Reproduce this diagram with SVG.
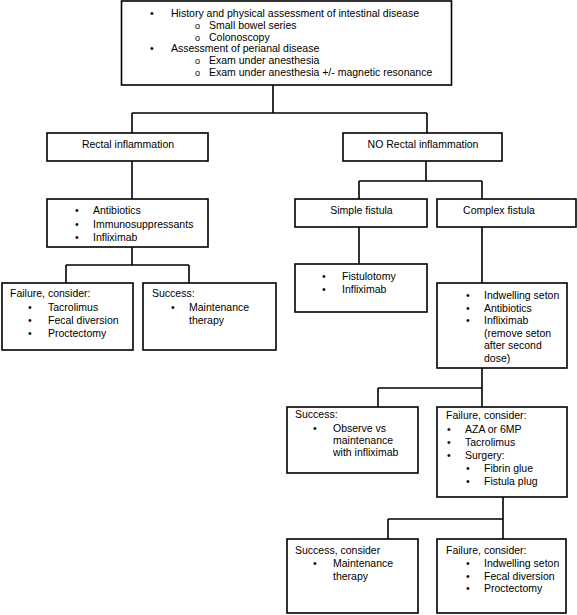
<svg xmlns="http://www.w3.org/2000/svg" width="577" height="615" viewBox="0 0 577 615">
<style>
.box{fill:#fff;stroke:#000;stroke-width:1.6}
.ln{fill:none;stroke:#000;stroke-width:1.6}
text{font-family:"Liberation Sans",Arial,sans-serif;font-size:10.5px;fill:#000}
.c{text-anchor:middle}
.o{font-size:9px}
</style>
<rect width="577" height="615" fill="#fff"/>
<g id="connectors">
<path class="ln" d="M273,85 V113 M132,113 H427 M132,113 V133 M427,113 V133"/>
<path class="ln" d="M132,161 V199 M132,247 V265 M66,265 H189 M66,265 V283 M189,265 V283"/>
<path class="ln" d="M426,161 V181 M359,181 H482 M359,181 V199 M482,181 V199"/>
<path class="ln" d="M359,227 V264 M482,227 V283"/>
<path class="ln" d="M482,368 V388 M378,388 H482 M378,388 V407 M482,388 V407"/>
<path class="ln" d="M503,497 V519 M388,519 H503 M388,519 V539 M503,519 V539"/>
</g>
<g id="top">
<rect class="box" x="121.5" y="1" width="330" height="84"/>
<text x="150" y="17">•</text><text x="171" y="17">History and physical assessment of intestinal disease</text>
<text class="o" x="195" y="28.8">o</text><text x="209" y="28.8">Small bowel series</text>
<text class="o" x="195" y="40.6">o</text><text x="209" y="40.6">Colonoscopy</text>
<text x="150" y="52.4">•</text><text x="171" y="52.4">Assessment of perianal disease</text>
<text class="o" x="195" y="64.2">o</text><text x="209" y="64.2">Exam under anesthesia</text>
<text class="o" x="195" y="76">o</text><text x="209" y="76">Exam under anesthesia +/- magnetic resonance</text>
</g>
<g id="rectal">
<rect class="box" x="47" y="133" width="161" height="28"/>
<text class="c" x="128" y="148">Rectal inflammation</text>
</g>
<g id="rectal-tx">
<rect class="box" x="47" y="199" width="161" height="48"/>
<text x="75" y="214">•</text><text x="93" y="214">Antibiotics</text>
<text x="75" y="227.5">•</text><text x="93" y="227.5">Immunosuppressants</text>
<text x="75" y="240.5">•</text><text x="93" y="240.5">Infliximab</text>
</g>
<g id="rectal-fail">
<rect class="box" x="2" y="283" width="131" height="67"/>
<text x="10" y="297">Failure, consider:</text>
<text x="28" y="310.5">•</text><text x="48" y="310.5">Tacrolimus</text>
<text x="28" y="324">•</text><text x="48" y="324">Fecal diversion</text>
<text x="28" y="337">•</text><text x="48" y="337">Proctectomy</text>
</g>
<g id="rectal-success">
<rect class="box" x="143" y="283" width="133" height="67"/>
<text x="152" y="297">Success:</text>
<text x="171" y="310.5">•</text><text x="189" y="310.5">Maintenance</text>
<text x="189" y="323.5">therapy</text>
</g>
<g id="no-rectal">
<rect class="box" x="343" y="133" width="159" height="28"/>
<text class="c" x="423" y="148">NO Rectal inflammation</text>
</g>
<g id="simple">
<rect class="box" x="295" y="199" width="132" height="28"/>
<text class="c" x="361.5" y="214">Simple fistula</text>
</g>
<g id="complex">
<rect class="box" x="437" y="199" width="139" height="28"/>
<text class="c" x="499" y="214">Complex fistula</text>
</g>
<g id="simple-tx">
<rect class="box" x="295" y="264" width="132" height="48"/>
<text x="322" y="280">•</text><text x="342" y="280">Fistulotomy</text>
<text x="322" y="293">•</text><text x="342" y="293">Infliximab</text>
</g>
<g id="complex-tx">
<rect class="box" x="437" y="283" width="130" height="85"/>
<text x="466" y="299">•</text><text x="484" y="299">Indwelling seton</text>
<text x="466" y="311.5">•</text><text x="484" y="311.5">Antibiotics</text>
<text x="466" y="324">•</text><text x="484" y="324">Infliximab</text>
<text x="484" y="336.5">(remove seton</text>
<text x="484" y="349">after second</text>
<text x="484" y="361.5">dose)</text>
</g>
<g id="complex-success">
<rect class="box" x="287" y="407" width="131" height="66"/>
<text x="295" y="418">Success:</text>
<text x="313" y="432">•</text><text x="333" y="432">Observe vs</text>
<text x="333" y="444">maintenance</text>
<text x="333" y="456">with infliximab</text>
</g>
<g id="complex-fail">
<rect class="box" x="437" y="407" width="130" height="90"/>
<text x="446" y="419">Failure, consider:</text>
<text x="447" y="433">•</text><text x="465" y="433">AZA or 6MP</text>
<text x="447" y="446">•</text><text x="465" y="446">Tacrolimus</text>
<text x="447" y="459">•</text><text x="465" y="459">Surgery:</text>
<text x="466" y="472">•</text><text x="484" y="472">Fibrin glue</text>
<text x="466" y="485">•</text><text x="484" y="485">Fistula plug</text>
</g>
<g id="final-success">
<rect class="box" x="287" y="539" width="131" height="74"/>
<text x="295" y="554">Success, consider</text>
<text x="313" y="567">•</text><text x="333" y="567">Maintenance</text>
<text x="333" y="580">therapy</text>
</g>
<g id="final-fail">
<rect class="box" x="437" y="539" width="129" height="74"/>
<text x="446" y="554">Failure, consider:</text>
<text x="466" y="567">•</text><text x="484" y="567">Indwelling seton</text>
<text x="466" y="580">•</text><text x="484" y="580">Fecal diversion</text>
<text x="466" y="592">•</text><text x="484" y="592">Proctectomy</text>
</g>
</svg>
